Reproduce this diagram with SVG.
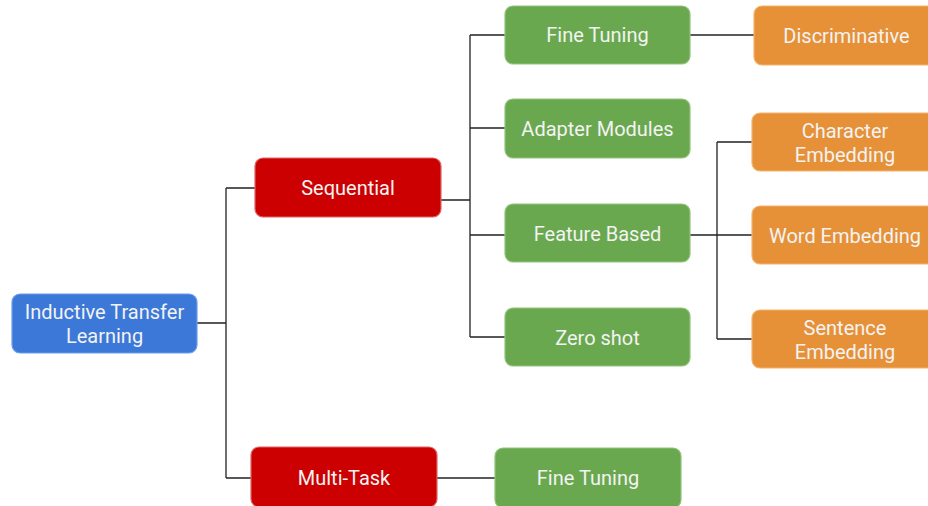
<svg xmlns="http://www.w3.org/2000/svg" width="928" height="506" viewBox="0 0 928 506">
<style>
.n rect{stroke-width:1.2}
.blue rect{fill:#3c78d8;stroke:#6d9eeb}
.red rect{fill:#cc0000;stroke:#e06666}
.green rect{fill:#6aa84f;stroke:#93c47d}
.orange rect{fill:#e69138;stroke:#f6b26b}
.n text{font-family:Roboto,"Liberation Sans",sans-serif;font-size:20px;fill:#f3f3f3;text-anchor:middle}
.c path{fill:none;stroke:#222;stroke-width:1.3}
</style>
<rect width="928" height="506" fill="#fff"/>
<g class="c" id="connectors">
<path d="M197,323 H226 M226,188 V478 M226,188 H255 M226,478 H251"/>
<path d="M441,200 H470 M470,35 V337 M470,35 H505 M470,128 H505 M470,235 H505 M470,337 H505"/>
<path d="M690,35 H754"/>
<path d="M690,235 H752 M717,142 V339 M717,142 H752 M717,339 H752"/>
<path d="M437,478 H495"/>
</g>
<g class="n blue" id="itl"><rect x="12" y="294" width="185" height="59" rx="8"/><text x="104.5" y="319">Inductive Transfer</text><text x="104.5" y="343">Learning</text></g>
<g class="n red" id="sequential"><rect x="255" y="158" width="186" height="59" rx="8"/><text x="348" y="195">Sequential</text></g>
<g class="n red" id="multitask"><rect x="251" y="447" width="186" height="60" rx="8"/><text x="344" y="485">Multi-Task</text></g>
<g class="n green" id="finetuning1"><rect x="505" y="6" width="185" height="58" rx="8"/><text x="597.5" y="42">Fine Tuning</text></g>
<g class="n green" id="adapter"><rect x="505" y="99" width="185" height="59" rx="8"/><text x="597.5" y="136">Adapter Modules</text></g>
<g class="n green" id="feature"><rect x="505" y="204" width="185" height="58" rx="8"/><text x="597.5" y="241">Feature Based</text></g>
<g class="n green" id="zeroshot"><rect x="505" y="308" width="185" height="58" rx="8"/><text x="597.5" y="345">Zero shot</text></g>
<g class="n green" id="finetuning2"><rect x="495" y="448" width="186" height="60" rx="8"/><text x="588" y="485">Fine Tuning</text></g>
<g class="n orange" id="discriminative"><rect x="754" y="6" width="185" height="59" rx="8"/><text x="846.5" y="43">Discriminative</text></g>
<g class="n orange" id="character"><rect x="752" y="113" width="186" height="58" rx="8"/><text x="845" y="138">Character</text><text x="845" y="162">Embedding</text></g>
<g class="n orange" id="word"><rect x="752" y="206" width="186" height="58" rx="8"/><text x="845" y="243">Word Embedding</text></g>
<g class="n orange" id="sentence"><rect x="752" y="310" width="186" height="58" rx="8"/><text x="845" y="335">Sentence</text><text x="845" y="359">Embedding</text></g>
</svg>
